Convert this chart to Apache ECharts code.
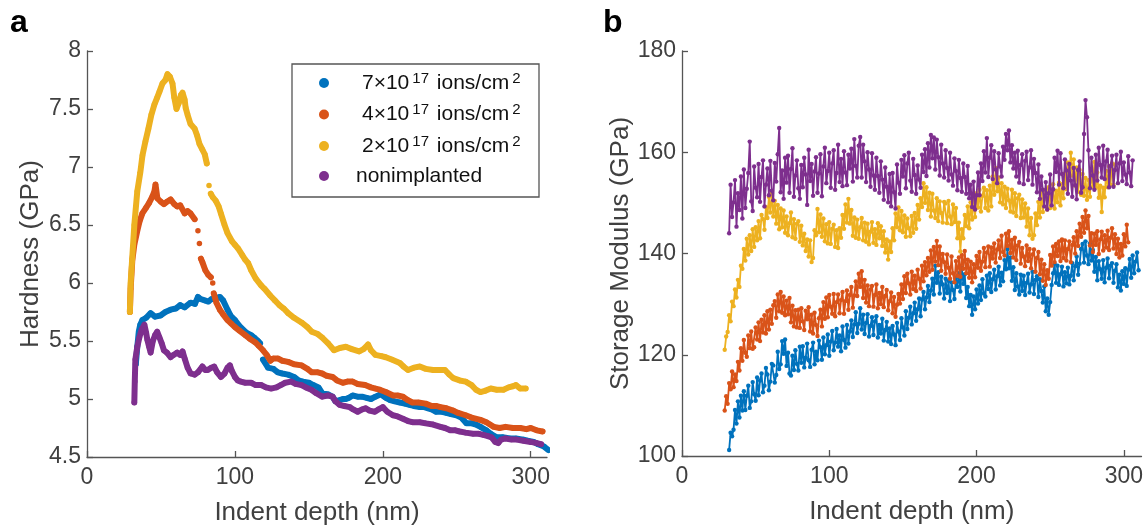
<!DOCTYPE html>
<html><head><meta charset="utf-8">
<script src="https://cdn.jsdelivr.net/npm/echarts@6.0.0/dist/echarts.min.js"></script>
<style>html,body{margin:0;padding:0;background:#fff}#c{width:1146px;height:531px}</style>
</head><body><div id="c"></div><script>
// ---------- labels ----------
const seriesNames = ['7×10^17 ions/cm^2', '4×10^17 ions/cm^2', '2×10^17 ions/cm^2', 'nonimplanted'];
const colors = ['#0072BD', '#D95319', '#EDB120', '#7E2F8E'];
const xTicks = [0, 100, 200, 300];
const xLabel = 'Indent depth (nm)';
const hardLabel = 'Hardness (GPa)';
const modLabel = 'Storage Modulus (GPa)';

// ---------- panel a: hardness (GPa) vs indent depth (nm) ----------
const hardBlue = [[33,5.30],[34,5.45],[35,5.58],[36,5.64],[37.4,5.68],[40,5.70],[43,5.74],[46,5.71],[49.7,5.72],[53,5.75],[56.5,5.77],[60,5.78],[63,5.81],[66,5.79],[70,5.83],[73,5.82],[75,5.88],[77,5.86],[79.6,5.85],[82,5.84],[84,5.86],[87,5.87],[89.8,5.88],[92,5.85],[95,5.77],[97,5.72],[100,5.68],[103,5.63],[105.4,5.60],[108,5.57],[111,5.55],[113,5.53],[115.6,5.50],[117,5.48],[118,'-'],[119,5.34],[122.4,5.27],[126,5.26],[129,5.23],[132,5.22],[136,5.21],[140,5.19],[143,5.16],[146,5.15],[150,5.14],[153,5.12],[156.5,5.10],[159,5.05],[163,5.04],[166,5.02],[168,4.98],[170.7,4.99],[173,5.00],[175,5.00],[177,5.01],[179.6,5.03],[183,5.02],[186,5.02],[189,5.01],[192,5.00],[195,5.02],[198.6,5.04],[202,5.01],[205,4.99],[208,4.98],[211.5,4.97],[215,4.96],[218,4.95],[221,4.94],[225,4.93],[228,4.93],[230.6,4.92],[233,4.91],[236,4.89],[240,4.89],[243,4.88],[246,4.87],[249.7,4.86],[253,4.84],[256.5,4.79],[260,4.79],[263,4.78],[266,4.76],[270,4.73],[273,4.70],[277,4.67],[281,4.67],[286,4.66],[290,4.66],[295,4.65],[298,4.64],[302,4.63],[305,4.61],[309,4.59],[312,4.56]];
const hardOrange = [[29,5.75],[29.5,5.95],[30.6,6.19],[32,6.33],[34,6.45],[35.5,6.53],[37.4,6.60],[40,6.65],[42,6.69],[44,6.74],[45.6,6.79],[46.3,6.85],[47.6,6.73],[50,6.70],[52,6.68],[54,6.70],[56.5,6.72],[59,6.68],[61,6.66],[63,6.67],[66,6.60],[68,6.62],[70,6.60],[72.8,6.55],[73.5,'-'],[75,6.45],[75.5,'-'],[76,6.34],[76.5,'-'],[77,6.21],[78,6.18],[80,6.11],[82,6.07],[83.7,6.05],[84.4,'-'],[85,6.00],[85.3,'-'],[85.7,5.91],[87.5,5.83],[89.8,5.77],[92,5.73],[95,5.68],[97.5,5.65],[100,5.62],[103,5.59],[107,5.55],[110,5.52],[113.6,5.49],[116,5.46],[119,5.42],[121.5,5.38],[124,5.33],[126,5.35],[129,5.35],[132,5.33],[136,5.32],[140,5.30],[145,5.29],[149,5.26],[152,5.23],[156,5.23],[159,5.22],[162,5.20],[166,5.19],[169,5.16],[173,5.14],[176,5.15],[179.6,5.15],[183,5.13],[188,5.12],[192,5.10],[195,5.09],[198,5.08],[202,5.06],[207,5.03],[210,5.03],[213.6,5.02],[217,4.99],[220,4.97],[224,4.97],[229,4.96],[233,4.94],[236,4.94],[239,4.93],[243,4.92],[247.6,4.90],[251,4.88],[256,4.86],[260,4.84],[266,4.82],[270,4.80],[275,4.76],[279,4.75],[283,4.76],[288,4.75],[293,4.75],[297,4.74],[300,4.75],[304,4.73],[308,4.72]];
const hardYellow = [[29,5.75],[29.5,6.00],[30.5,6.20],[32,6.50],[34,6.79],[36,6.95],[37.5,7.10],[39.5,7.22],[41.5,7.33],[43.5,7.45],[45.6,7.54],[47.5,7.60],[49,7.65],[51,7.72],[53,7.75],[54.4,7.80],[56,7.78],[57.8,7.72],[59,7.60],[60.5,7.50],[62,7.55],[63.5,7.62],[64.6,7.64],[66,7.58],[66.7,7.51],[68,7.45],[70,7.37],[72.8,7.33],[74.5,7.27],[76,7.20],[78,7.15],[79.6,7.11],[81,7.03],[81.7,'-'],[82.5,6.84],[83.1,'-'],[83.7,6.77],[85,6.74],[87,6.71],[89,6.66],[90.5,6.60],[93,6.50],[95,6.43],[98,6.36],[100,6.33],[102,6.30],[105,6.24],[107,6.20],[109,6.17],[111,6.11],[114,6.04],[117.7,5.98],[120,5.95],[124,5.89],[127,5.85],[130,5.81],[133,5.78],[136,5.74],[140,5.70],[145,5.66],[149,5.62],[152,5.58],[156,5.56],[159,5.53],[163,5.48],[167,5.42],[171,5.44],[175,5.45],[179,5.43],[184,5.41],[187,5.43],[190,5.47],[192,5.42],[195,5.38],[199,5.37],[202,5.36],[206,5.34],[211.5,5.31],[214,5.28],[217,5.25],[221,5.27],[225,5.28],[229,5.26],[234,5.25],[238,5.25],[242,5.25],[245,5.21],[247.6,5.18],[252,5.16],[256,5.15],[260,5.12],[263,5.08],[266,5.06],[269,5.07],[273,5.09],[277,5.08],[281.6,5.08],[285,5.10],[288,5.11],[290,5.12],[293,5.09],[296.6,5.09]];
const hardPurple = [[32,4.97],[32.3,5.15],[32.7,5.34],[34,5.45],[35.4,5.53],[37,5.60],[38.8,5.64],[40,5.57],[40.8,5.51],[42,5.45],[43,5.40],[44.5,5.50],[46,5.55],[47.5,5.58],[49,5.53],[50.5,5.48],[52,5.42],[54,5.40],[56.5,5.36],[58.5,5.38],[61,5.40],[63,5.38],[64.6,5.41],[66,5.35],[68,5.27],[70,5.22],[72.8,5.21],[75,5.23],[78,5.28],[80,5.25],[81.6,5.25],[84,5.27],[86,5.28],[88,5.23],[90.5,5.19],[93,5.22],[95,5.27],[96.6,5.29],[98,5.24],[100,5.19],[102,5.16],[104,5.15],[107,5.14],[111,5.14],[114,5.12],[117.7,5.12],[121,5.10],[124.5,5.09],[128,5.10],[131,5.12],[134,5.14],[138,5.15],[141,5.13],[145,5.12],[148,5.10],[151.7,5.08],[155,5.05],[159,5.02],[163,5.03],[166,5.02],[168,4.98],[170.7,4.95],[174,4.94],[177.6,4.93],[180,4.91],[183,4.89],[186,4.91],[188.4,4.92],[191,4.90],[194.6,4.89],[197,4.91],[200,4.93],[203,4.89],[206.8,4.86],[210,4.85],[213.6,4.83],[217,4.81],[220,4.80],[225,4.80],[229,4.79],[234,4.78],[239,4.76],[242,4.75],[245.6,4.73],[249,4.73],[252,4.72],[256,4.71],[261,4.70],[265,4.70],[268,4.69],[271,4.68],[273.5,4.67],[276,4.63],[278,4.62],[280,4.65],[283,4.66],[287,4.65],[290.5,4.65],[295,4.64],[300,4.63],[304,4.62],[307,4.61]];

// ---------- panel b: storage modulus (GPa), one reading per 1 nm from the start depth ----------
const modStep = 1;
const modBlueStart = 32;
const modBlue = [101.2,104.6,103.9,105.2,109.1,106.4,110.8,107.6,111.9,109.0,
112.8,109.1,111.9,113.9,109.5,110.8,114.6,112.2,110.9,115.5,
112.0,114.9,116.3,112.6,113.9,117.4,116.1,113.0,114.7,118.2,
117.9,114.5,116.0,120.6,117.2,118.1,122.7,120.2,123.0,117.8,
120.4,116.3,115.9,119.8,117.0,120.9,118.2,116.9,121.6,118.4,
121.7,117.5,119.4,122.2,118.9,117.6,121.0,122.4,118.1,120.6,
118.9,122.8,121.5,119.0,123.4,120.1,121.9,124.0,119.8,122.6,
124.7,120.9,122.4,125.1,121.6,123.8,120.7,125.6,122.9,121.4,
125.9,122.2,124.6,126.8,123.5,126.0,128.4,124.3,126.1,129.2,
125.0,127.9,124.1,126.3,128.0,123.6,125.7,127.4,123.9,126.6,
127.6,123.4,125.9,124.2,127.1,122.8,124.9,126.5,122.6,125.2,
122.1,125.7,124.0,121.9,126.3,124.6,122.9,127.2,125.4,123.8,
128.6,125.1,127.3,129.5,126.0,128.2,130.3,126.7,129.0,131.1,
127.6,130.9,132.4,129.0,131.3,133.6,130.4,132.7,135.0,131.9,
137.6,134.2,136.3,132.1,135.4,133.9,131.1,135.0,132.2,134.6,
130.6,134.3,132.8,131.0,135.2,133.4,136.1,132.5,137.2,134.0,
135.9,131.2,133.4,129.6,131.8,127.9,131.5,129.0,132.9,130.1,
133.7,130.8,134.9,132.1,131.5,135.6,133.0,136.1,132.4,134.9,
136.8,132.9,135.5,137.4,133.7,136.2,134.5,138.7,136.9,140.9,
137.1,139.2,134.6,137.3,132.8,136.1,133.5,131.9,135.8,132.6,
135.6,131.8,134.2,136.0,132.3,133.9,136.4,132.0,134.8,135.5,
131.4,134.9,132.6,130.3,133.5,128.6,131.1,127.9,130.4,133.8,
136.1,138.0,134.2,137.6,133.8,135.9,137.4,133.5,136.3,134.1,
137.2,133.9,135.6,138.1,134.7,137.5,139.4,135.8,138.0,140.9,
141.9,138.2,142.4,139.6,137.9,142.0,138.6,140.7,136.4,139.3,
134.7,138.5,136.9,135.0,138.7,134.3,137.2,139.0,135.1,137.6,
138.1,134.2,136.6,137.9,133.3,135.8,132.7,136.5,134.0,137.1,
133.6,136.8,138.9,135.2,139.6,136.1,138.4,140.2,136.7];
const modOrangeStart = 29;
const modOrange = [109.0,111.8,110.3,114.4,113.2,116.7,113.6,116.1,114.8,118.6,
116.9,121.3,118.8,122.9,120.4,119.6,123.8,121.3,124.6,121.2,
121.5,125.4,123.0,126.4,122.7,126.9,124.4,127.8,124.2,128.6,
125.0,128.9,126.1,129.8,130.6,127.3,131.9,128.6,132.4,128.3,
131.5,127.8,130.7,128.0,131.2,126.4,129.7,125.6,128.8,125.4,
128.9,125.3,129.2,126.6,124.9,128.7,127.0,129.4,124.6,127.9,
124.2,128.3,125.9,123.7,127.2,128.9,125.6,130.4,127.1,131.3,
127.4,131.8,129.5,128.1,132.0,127.6,130.4,131.9,128.2,130.8,
132.4,128.1,130.6,132.7,128.9,131.8,133.4,129.3,131.7,134.5,
131.6,136.0,133.4,136.5,131.2,134.8,130.3,133.7,129.6,132.9,
133.6,129.5,131.8,133.9,129.2,132.2,130.0,133.4,129.4,131.6,
132.8,128.8,130.6,132.3,128.2,131.4,127.5,129.9,132.0,130.1,
133.9,131.0,135.5,132.2,136.0,134.1,131.9,136.4,133.0,135.6,
132.6,136.8,135.0,133.1,137.6,134.5,138.3,135.7,139.1,136.4,
140.6,136.8,141.3,138.4,142.5,137.7,141.4,136.6,139.9,138.3,
136.0,139.8,137.2,135.0,139.4,136.1,134.3,138.5,135.6,139.2,
135.4,139.7,137.0,140.5,136.1,138.8,135.2,138.4,134.3,137.9,
135.3,139.5,137.2,140.3,136.6,138.4,141.1,137.3,140.2,141.4,
137.4,141.2,139.0,142.0,138.2,140.8,142.6,139.1,143.5,140.3,
139.6,143.9,141.5,144.4,140.1,142.7,139.2,143.1,138.7,141.6,
142.3,138.0,141.1,139.4,137.5,141.6,138.5,140.9,137.1,139.8,
140.8,136.4,139.1,140.3,135.9,138.8,134.6,137.9,133.8,136.7,
135.0,139.7,137.6,141.4,138.3,141.9,139.5,142.4,138.5,142.8,
139.1,142.6,138.6,140.9,142.4,138.3,141.7,143.2,140.0,144.4,
141.5,145.9,143.3,147.2,144.1,148.5,145.0,147.4,141.6,144.0,
140.3,143.9,141.7,144.4,139.9,142.8,144.3,140.6,143.6,141.2,
144.5,140.7,143.1,145.0,141.0,143.8,139.9,142.9,139.2,141.9,
139.6,143.8,141.4,145.7,142.2];
const modYellowStart = 29;
const modYellow = [121.0,123.6,124.5,127.8,126.6,130.5,129.6,132.9,131.3,134.8,
133.4,137.6,137.0,140.9,138.6,142.9,139.8,143.6,140.5,144.8,
141.3,145.2,142.6,146.4,143.0,147.6,146.8,144.7,149.2,147.0,
151.2,148.1,151.9,147.3,150.4,145.9,149.6,144.8,148.9,145.2,
148.5,144.1,147.3,143.6,146.0,148.1,143.2,146.8,142.9,145.9,
146.4,142.3,145.5,141.6,143.9,140.5,142.8,139.4,142.6,138.3,
139.1,144.6,143.6,148.8,144.2,147.7,143.3,146.9,142.4,145.8,
142.0,146.2,141.9,144.9,145.7,141.3,144.6,141.1,145.0,143.1,
147.6,144.9,149.7,146.1,150.8,145.9,148.6,143.5,147.1,143.1,
146.7,142.9,145.2,147.0,142.6,146.1,142.3,145.9,141.8,144.3,
146.2,142.1,144.8,141.7,146.0,143.0,145.4,141.5,144.4,140.2,
142.8,138.8,142.4,140.3,145.0,142.6,147.9,145.2,149.1,144.6,
148.4,144.2,147.5,143.3,146.9,145.0,143.4,147.4,144.1,148.0,
144.9,149.6,146.7,150.9,149.2,153.9,150.0,153.1,148.6,152.0,
147.3,151.8,148.5,147.0,150.9,146.4,150.3,148.0,146.1,150.2,
149.9,146.0,150.4,147.3,145.8,149.7,146.2,149.0,143.0,146.1,
140.4,144.8,143.0,147.6,145.4,149.3,145.0,150.1,146.7,151.0,
147.2,151.9,149.1,152.6,148.3,151.4,153.0,149.0,152.5,148.5,
153.4,149.3,155.2,151.6,156.9,152.3,155.0,150.1,153.9,149.7,
153.2,149.0,152.8,150.5,148.3,152.6,148.1,151.9,147.4,150.9,
151.6,147.0,150.7,147.1,149.9,145.3,148.9,143.6,147.0,142.9,
143.6,147.9,145.6,150.2,147.1,152.3,148.2,150.8,152.6,148.7,
153.1,149.0,151.6,153.7,148.9,152.4,150.1,154.0,149.5,153.7,
150.9,155.8,152.7,158.0,155.2,159.9,155.4,158.6,153.4,157.0,
152.2,156.5,151.6,155.7,151.4,154.9,150.6,154.5,151.2,156.4,
153.2,158.1,153.0,156.0,151.0,153.4,148.2,153.0,151.1,156.3,
153.1,157.2,153.6,157.8,153.5,157.6];
const modPurpleStart = 32;
const modPurple = [144.0,153.6,147.2,150.1,154.5,145.3,151.9,148.6,155.2,146.9,
156.6,149.0,152.8,155.9,162.1,150.3,148.4,157.2,153.0,151.1,
157.7,150.2,155.1,158.4,149.3,153.6,156.8,151.5,158.3,152.4,
150.5,157.9,154.2,159.6,164.8,152.1,156.4,150.8,158.9,154.0,
159.3,152.0,156.7,160.8,151.2,155.4,158.4,152.9,150.8,157.5,
153.1,158.9,155.6,149.6,160.5,154.3,157.7,151.4,156.2,159.0,
152.0,155.8,159.6,151.3,157.2,160.9,153.9,156.3,159.9,153.0,
157.8,160.4,152.6,155.9,161.5,154.1,158.7,153.3,160.2,156.0,
153.5,159.5,156.8,160.7,154.2,162.6,157.3,155.0,161.3,163.0,
155.0,161.5,158.2,154.1,160.0,156.6,153.2,159.8,155.4,152.6,
158.9,155.3,152.0,158.2,154.6,150.6,157.0,153.2,150.1,155.7,
149.3,155.9,152.1,148.9,157.6,154.0,151.8,158.5,155.2,159.4,
152.9,157.8,159.9,154.4,152.2,158.7,155.5,151.8,157.4,154.6,
153.0,159.5,156.1,160.6,155.3,161.8,157.0,163.4,158.8,162.9,
156.6,162.5,159.0,155.4,161.5,157.8,155.0,160.4,156.9,154.4,
159.9,155.6,153.4,158.8,156.3,152.5,158.5,154.9,152.2,157.8,
155.1,151.8,157.3,150.9,153.6,149.2,154.2,148.7,151.5,156.0,
151.5,157.8,154.3,160.2,156.0,162.8,155.1,158.9,161.4,154.7,
160.2,156.6,153.9,159.8,157.2,155.2,161.1,158.5,163.6,160.4,
164.3,158.0,161.4,156.8,159.9,155.2,160.3,154.0,157.5,159.6,
153.7,158.3,160.1,154.5,157.0,160.4,153.6,158.7,155.9,152.1,
157.6,150.8,155.2,152.6,149.3,154.1,148.7,151.9,155.6,149.5,
152.7,158.9,156.1,160.3,153.6,159.8,155.7,152.9,158.6,156.4,
151.8,157.7,154.4,151.2,156.9,153.5,150.7,156.5,158.2,152.0,
153.1,163.6,170.3,166.9,160.4,152.9,158.9,155.4,152.6,159.5,
154.4,160.9,157.5,155.0,161.3,154.7,158.2,160.5,153.1,157.3,
159.3,153.2,156.5,159.5,153.9,157.8,160.1,154.3,158.0,155.6,
153.7,159.2,156.0,153.3,158.4];

function toPairs(start, ys) { return ys.map((y, i) => [start + i * modStep, y]); }

const FONT = '"Liberation Sans", Arial, Helvetica, sans-serif';
const AX = '#555555', TX = '#404040';

function xAxisCfg(grid, max) {
  return {
    gridIndex: grid, type: 'value', min: 0, max: max,
    name: xLabel, nameLocation: 'middle', nameGap: 43,
    nameTextStyle: { fontSize: 26, color: TX, fontFamily: FONT },
    axisLine: { show: true, onZero: false, lineStyle: { color: AX, width: 1.3 } },
    axisTick: { show: true, inside: true, length: 6, customValues: xTicks, lineStyle: { color: AX, width: 1.3 } },
    axisLabel: { customValues: xTicks, fontSize: 23, color: TX, margin: 9, fontFamily: FONT },
    splitLine: { show: false }
  };
}
function yAxisCfg(grid, min, max, interval, name, gap) {
  return {
    gridIndex: grid, type: 'value', min: min, max: max, interval: interval,
    name: name, nameLocation: 'middle', nameGap: gap,
    nameTextStyle: { fontSize: 26, color: TX, fontFamily: FONT },
    axisLine: { show: true, onZero: false, lineStyle: { color: AX, width: 1.3 } },
    axisTick: { show: true, inside: true, length: 6, lineStyle: { color: AX, width: 1.3 } },
    axisLabel: { fontSize: 23, color: TX, margin: 6, fontFamily: FONT },
    splitLine: { show: false }
  };
}

const hardData = [hardBlue, hardOrange, hardYellow, hardPurple];
const modData = [toPairs(modBlueStart, modBlue), toPairs(modOrangeStart, modOrange), toPairs(modYellowStart, modYellow), toPairs(modPurpleStart, modPurple)];

const series = [];
hardData.forEach((d, i) => series.push({
  name: seriesNames[i], type: 'line', xAxisIndex: 0, yAxisIndex: 0, data: d,
  symbol: 'circle', symbolSize: 5.5, showSymbol: true, connectNulls: false,
  itemStyle: { color: colors[i], borderWidth: 0 },
  lineStyle: { color: colors[i], width: 6, cap: 'round', join: 'round' },
  z: 2 + i, silent: true
}));
modData.forEach((d, i) => series.push({
  name: seriesNames[i], type: 'line', xAxisIndex: 1, yAxisIndex: 1, data: d,
  symbol: 'circle', symbolSize: 4.4, showSymbol: true,
  itemStyle: { color: colors[i], borderWidth: 0 },
  lineStyle: { color: colors[i], width: 1.8, join: 'round' },
  z: 2 + i, silent: true
}));

function legendFmt(name) {
  const pad = name.indexOf('^') >= 0 ? '{p|}' : '{q|}';
  return pad + '{n|' + name.replace(/\^(\d+)/g, '}{s|$1}{n|') + '}';
}

const chart = echarts.init(document.getElementById('c'), null, { renderer: 'canvas' });
chart.setOption({
  animation: false,
  backgroundColor: '#ffffff',
  textStyle: { fontFamily: FONT },
  title: [
    { text: 'a', left: 10, top: 7, padding: 0, textStyle: { fontSize: 32, fontWeight: 'bold', color: '#000', fontFamily: FONT } },
    { text: 'b', left: 603, top: 7, padding: 0, textStyle: { fontSize: 32, fontWeight: 'bold', color: '#000', fontFamily: FONT } }
  ],
  grid: [
    { left: 87, top: 51, width: 460, height: 406, containLabel: false },
    { left: 682, top: 51, width: 461, height: 405, containLabel: false }
  ],
  xAxis: [xAxisCfg(0, 311), xAxisCfg(1, 312)],
  yAxis: [yAxisCfg(0, 4.5, 8, 0.5, hardLabel, 43), yAxisCfg(1, 100, 180, 20, modLabel, 38)],
  legend: {
    data: seriesNames, orient: 'vertical', left: 319, top: 71, padding: 0,
    itemWidth: 10, itemHeight: 10, itemGap: 9, icon: 'circle',
    selectedMode: false,
    formatter: legendFmt,
    textStyle: {
      color: '#111', fontFamily: FONT,
      rich: {
        p: { width: 28, lineHeight: 24 },
        q: { width: 22, lineHeight: 24 },
        n: { fontSize: 21, lineHeight: 24, color: '#111', fontFamily: FONT },
        s: { fontSize: 15, lineHeight: 10, verticalAlign: 'top', padding: [0, 2, 0, 3], color: '#111', fontFamily: FONT }
      }
    }
  },
  graphic: [
    { type: 'rect', shape: { x: 292, y: 64, width: 247, height: 133 }, style: { fill: 'none', stroke: '#555', lineWidth: 1.3 }, z: 10, silent: true }
  ],
  series: series
});
</script></body></html>
